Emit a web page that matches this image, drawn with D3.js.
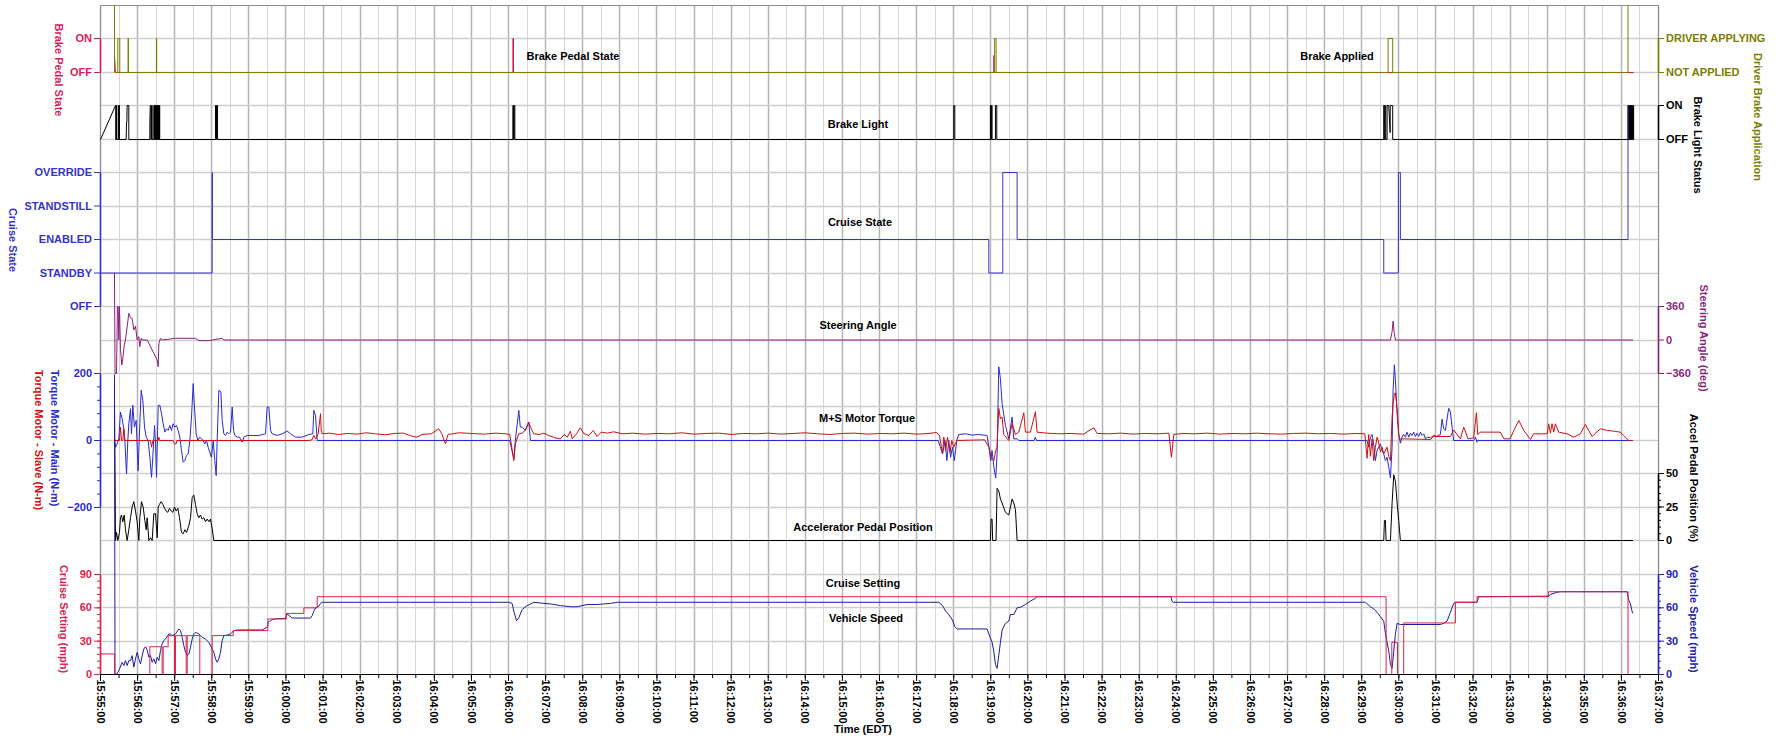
<!DOCTYPE html>
<html>
<head>
<meta charset="utf-8">
<script src="https://cdn.jsdelivr.net/npm/d3@7"></script>
<style>
  body { margin: 0; background: #fff; }
  svg text { font-family: "Liberation Sans", Arial, sans-serif; font-weight: bold; font-size: 11px; }
</style>
</head>
<body>
<script>
// all times are seconds after 15:55:00 (EDT)
var startClock = [15, 55, 0];
var endClock = [16, 37, 0];

var pedalLabels = ["OFF", "ON"];
var driverLabels = ["NOT APPLIED", "DRIVER APPLYING"];
var lightLabels = ["OFF", "ON"];
var cruiseStateLabels = ["OFF", "STANDBY", "ENABLED", "STANDSTILL", "OVERRIDE"];
var steerTicks = [-360, 0, 360];
var torqueTicks = [-200, 0, 200];
var accelTicks = [0, 25, 50];
var speedTicks = [0, 30, 60, 90];

var brakePedal = [[22.6,0.5],[24.3,0],[667,0],[667,1],[668,1],[668,0],[1444.8,0],[1444.8,0.5],[1445.6,0.5],[1445.6,0],[2479.8,0]];

var driverBrake = [[22.6,2],[22.8,0],[28.0,0],[28.0,1],[31.2,1],[31.2,0],[44.6,0],[44.6,1],[45.2,1],[45.2,0],
  [90.4,0],[90.4,1],[90.9,1],[90.9,0],[1446.2,0],[1446.2,1],[1448.6,1],[1448.6,0],
  [2082.6,0],[2082.6,1],[2090.1,1],[2090.1,0],[2470.7,0],[2470.7,2]];

var brakeLight = [[0,0],[24.3,1],[24.8,1],[24.8,0],[25.3,0],[25.3,1],[25.8,1],[25.8,0],
  [28.6,0],[28.6,1],[29.4,1],[29.4,0],[30.2,0],[30.2,1],[30.7,1],[30.7,0],
  [41.5,0],[42.1,0.5],[42.6,0.5],[43.1,1],[45.8,1],[45.8,0],
  [79.8,0],[79.8,0.5],[80.5,1],[81.5,1],[81.5,0],[82.5,0],[82.5,1],[83.6,1],[83.6,0],
  [86.3,0],[86.3,1],[87.0,1],[87.0,0],[87.6,0],[87.6,1],[88.3,1],[88.3,0],[88.9,0],[88.9,1],[89.6,1],[89.6,0],
  [90.2,0],[90.2,1],[90.9,1],[90.9,0],[91.5,0],[91.5,1],[92.2,1],[92.2,0],[92.8,0],[92.8,1],[93.5,1],[93.5,0],
  [94.1,0],[94.1,1],[94.8,1],[94.8,0],[95.4,0],[95.4,1],[95.8,1],[95.8,0],
  [186.0,0],[186.0,1],[187.6,1],[187.6,0],[188.2,0],[188.2,1],[189.3,1],[189.3,0],
  [667.0,0],[667.0,1],[668.0,1],[668.0,0],[669.0,0],[669.0,1],[670.2,1],[670.2,0],
  [1380.1,0],[1380.1,1],[1381.8,1],[1381.8,0],
  [1439.4,0],[1439.4,1],[1440.2,1],[1440.2,0],[1441.0,0],[1441.0,1],[1442.1,1],[1442.1,0],
  [1447.5,0],[1447.5,1],[1449.7,1],[1449.7,0],
  [2075.6,0],[2075.6,1],[2076.5,1],[2076.5,0],[2077.5,0],[2077.5,1],[2078.8,1],[2078.8,0],
  [2081.0,0],[2081.0,1],[2083.7,1],[2086.0,0.2],[2086.0,1],[2090.1,1],[2090.1,0],
  [2470.7,0],[2470.7,1],[2471.3,1],[2471.3,0],[2471.9,0],[2471.9,1],[2472.5,1],[2472.5,0],[2473.1,0],[2473.1,1],
  [2473.7,1],[2473.7,0],[2474.3,0],[2474.3,1],[2474.9,1],[2474.9,0],[2475.5,0],[2475.5,1],[2476.1,1],[2476.1,0],
  [2476.7,0],[2476.7,1],[2477.3,1],[2477.3,0],[2477.9,0],[2477.9,1],[2478.5,1],[2478.5,0],[2479.1,0],[2479.1,1],
  [2479.8,1],[2479.8,0]];

var cruiseState = [[0,1],[180.6,1],[180.6,4],[181.2,4],[181.2,2],[1436.8,2],[1436.8,1],[1459.4,1],[1459.4,4],
  [1482.6,4],[1482.6,2],[2075.6,2],[2075.6,1],[2099.3,1],[2099.3,4],[2102.5,4],[2102.5,2],[2470.7,2],[2470.7,6]];

var steering = [[22.6,724],[23.5,-360],[25.9,-360],[27.4,360],[28.6,360],[29.6,0],[30.7,360],[32.3,-100],
  [34.5,-269],[36.1,-200],[38.3,-60],[40.4,0],[44.2,200],[45.8,287],[48.5,240],[51.2,233],[53.9,108],
  [56.6,150],[59.3,0],[62.0,36],[63.6,-72],[65.8,18],[67.4,0],[75.5,0],[91.7,-215],[93.3,-287],[94.4,-40],
  [97.0,18],[99.7,0],[121.3,18],[153.6,18],[159.0,-7],[175.2,-7],[196.8,18],[199.5,0],
  [2086.4,0],[2089.1,90],[2090.7,204],[2092.3,90],[2094.5,0],[2478.8,0]];

var torqueMain = [[22.6,0],[24.3,-20],[26.9,-10],[29.6,5],[32.3,85],[35.0,65],[37.7,35],[39.4,0],[42.1,-100],
  [44.2,0],[45.8,50],[48.5,95],[50.1,20],[52.3,105],[54.9,40],[57.7,60],[60.9,-90],[63.6,50],[65.8,150],
  [68.5,120],[71.2,40],[73.9,10],[77.1,0],[79.8,-50],[82.5,-110],[84.6,-50],[87.4,45],[89.0,-10],[90.6,-110],
  [93.3,105],[96.0,105],[98.7,80],[101.4,50],[104.1,25],[106.7,35],[109.4,30],[112.1,45],[114.8,30],[117.5,50],
  [120.2,40],[122.9,45],[125.6,30],[128.3,10],[131.0,-30],[133.7,-65],[136.4,-60],[139.1,-45],[141.8,-40],
  [144.5,0],[147.2,70],[149.9,170],[152.0,100],[154.7,20],[157.4,0],[160.6,10],[163.3,5],[166.0,0],[168.7,-10],
  [171.4,0],[174.1,-20],[176.8,-35],[179.5,-50],[182.2,0],[184.9,-60],[187.1,-105],[188.7,0],[191.4,150],
  [194.7,145],[196.8,60],[199.5,20],[202.2,15],[204.9,25],[207.6,20],[210.3,25],[213.0,100],[215.2,30],
  [217.3,15],[221.1,10],[224.9,10],[229.2,-5],[231.9,10],[237.2,15],[245.3,15],[256.1,15],[266.9,20],
  [269.6,100],[272.3,100],[275.0,30],[277.7,20],[285.8,15],[293.9,20],[302.0,28],[307.4,20],[315.4,10],
  [326.2,10],[337.0,18],[343.4,20],[345.1,90],[347.8,75],[350.5,0],[353.2,0],
  [662,0],[668.5,-55],[671,0],[676.6,90],[679,40],[682,40],[687.3,30],[692.7,55],[695.4,0],
  [1355,0],[1362,-40],[1366,0],[1369,-60],[1372,0],[1375,-50],[1378,-20],[1381,-60],[1385,0],[1388,18],
  [1400,20],[1410,16],[1420,18],[1434,15],[1437,-20],[1440,-60],[1442,-30],[1445,-80],[1448,-112],
  [1450.2,-40],[1452.9,220],[1455.6,185],[1458.3,110],[1463.7,45],[1469.1,5],[1474.5,70],[1477.2,5],
  [1482.6,5],[1485.3,0],[1510,0],[1512,10],[1514,0],
  [2045,0],[2048.6,0],[2051.3,-20],[2054,10],[2056.7,18],[2059.4,-10],[2062.1,-60],[2064.8,-30],[2067.5,-20],
  [2070.2,-10],[2072.9,-30],[2075.6,-40],[2078.3,-60],[2081,-50],[2083.7,-80],[2086.4,-112],[2089.1,-20],
  [2090.7,150],[2092.8,226],[2094.5,180],[2097.2,80],[2099.8,20],[2102.5,-8],[2105.2,10],[2107.9,18],
  [2110.6,10],[2113.3,25],[2116,10],[2118.7,22],[2121.4,15],[2124.1,25],[2126.8,12],[2129.5,22],[2132.2,12],
  [2134.9,25],[2137.6,15],[2140.3,20],[2143,5],[2145.7,10],[2151.1,8],[2156.5,15],[2161.8,12],[2167.2,18],
  [2169.9,64],[2172.6,35],[2175.3,30],[2178,64],[2180.7,96],[2183.4,85],[2186.1,40],[2188.8,0],[2221,0],
  [2224,10],[2226.5,-5],[2227.6,0],[2478.8,0]];

var torqueSlave = [[22.6,0],[30.7,0],[32.3,40],[33.9,0],[36.1,0],[37.7,35],[39.4,0],[80.9,0],[82.5,-20],[84.6,0],
  [93.3,0],[94.4,10],[95.4,0],[117.5,0],[119.7,-10],[122.4,-10],[123.5,0],[337,0],[342,2],[345,15],[348,5],
  [352,20],[355.9,80],[357,30],[358.6,20],[370,22],[385,18],[400,21],[415,19],[430,23],[445,20],[460,17],
  [475,21],[490,22],[505,12],[512,10],[520,18],[535,20],[547,35],[552,20],[558,-10],[562,18],[580,23],
  [600,21],[620,19],[640,22],[655,20],[662,18],[668.5,-60],[671,-10],[676.6,20],[682,22],[687,30],
  [692.7,55],[695.4,40],[700.8,20],[710,18],[717,22],[725,15],[735,8],[744,5],[750,18],[755,10],[760,28],
  [763,5],[770,20],[776,38],[782,20],[790,15],[797,30],[803,12],[810,25],[820,22],[830,26],[845,20],
  [860,22],[880,19],[900,21],[920,20],[940,23],[960,19],[980,21],[1000,22],[1020,18],[1040,21],[1060,20],
  [1080,22],[1100,19],[1120,21],[1140,23],[1160,20],[1180,18],[1200,21],[1220,22],[1240,19],[1260,21],
  [1280,20],[1300,22],[1320,19],[1340,21],[1352,24],[1357,15],[1362,-40],[1364,10],[1367,-30],[1370,10],
  [1374,-35],[1377,0],[1380,-20],[1385,0],[1430,2],[1437,-20],[1440,-50],[1445,-60],[1448,-30],[1450.2,-20],
  [1452.9,96],[1455.6,65],[1458.3,70],[1461,18],[1469.1,0],[1474.5,50],[1479.9,18],[1485.3,25],[1493.4,83],
  [1496,25],[1504.1,25],[1512.2,86],[1514.9,25],[1530,22],[1550,20],[1570,21],[1590,19],[1606.6,38],
  [1612,21],[1630,20],[1650,22],[1670,19],[1690,21],[1710,20],[1728,22],[1732.2,-50],[1736,18],[1750,21],
  [1770,20],[1790,22],[1810,19],[1830,21],[1850,20],[1870,22],[1890,20],[1910,19],[1930,21],[1950,22],
  [1970,20],[1990,21],[2010,19],[2030,21],[2045,20],[2048.6,-53],[2051.3,18],[2054,-47],[2056.7,5],
  [2059.4,-60],[2062.1,-20],[2064.8,10],[2067.5,-8],[2070.2,-34],[2072.9,-20],[2075.6,-40],[2081,-20],
  [2083.7,-47],[2086.4,-60],[2089.1,70],[2090.7,110],[2092.8,140],[2094.5,142],[2097.2,95],[2099.8,18],
  [2102.5,0],[2105.2,5],[2151.1,3],[2156.5,12],[2183.4,12],[2188.8,31],[2199.6,5],[2205,40],[2212,5],
  [2221,8],[2225.5,83],[2227.6,18],[2232,25],[2248,25],[2264,25],[2270,5],[2280,5],[2286,30],[2294,60],
  [2302,30],[2313,3],[2318,20],[2340,20],[2342.4,50],[2345.1,22],[2347.8,50],[2350.5,25],[2353.2,50],
  [2358.6,25],[2372,20],[2383,10],[2393.6,20],[2401.7,48],[2412.5,12],[2426,35],[2437,30],[2447,28],
  [2458,25],[2463.7,15],[2471.8,0],[2478.8,0]];

var accelPedal = [[22.6,101],[24.3,0],[25.9,6],[28.0,0],[30.7,6],[32.3,17],[33.9,19],[36.1,14],[38.3,19],
  [40.4,8],[43.1,0],[45.8,8],[48.5,17],[51.2,25],[53.9,29],[56.6,22],[59.3,14],[62.0,0],[63.6,17],[66.3,29],
  [69.0,25],[71.7,15],[73.9,8],[75.5,17],[78.2,0],[80.9,2],[83.6,0],[86.3,20],[89.0,20],[91.7,2],[93.3,25],
  [95.4,27],[98.1,29],[100.8,27],[103.5,24],[106.2,22],[108.9,21],[111.6,24],[114.3,22],[117.0,21],
  [119.7,25],[122.4,22],[125.1,24],[127.8,17],[131.0,6],[133.7,5],[136.4,8],[139.1,6],[142.9,11],[145.6,17],
  [148.3,32],[150.9,34],[153.6,27],[156.3,20],[159.0,17],[161.7,19],[164.4,16],[167.1,17],[169.8,14],
  [172.5,16],[175.2,14],[177.9,16],[180.6,9],[183.3,0],
  [1439.4,0],[1440.5,16],[1442.1,16],[1443,0],[1448.5,0],[1450.2,39],[1452.9,37],[1455.6,31],[1458.3,28],
  [1463.7,21],[1469.1,19],[1474.5,31],[1477.2,28],[1479.9,23],[1482.6,0],
  [2075.6,0],[2076.7,15],[2078.3,15],[2079.4,0],[2086.4,0],[2089.1,28],[2091.8,49],[2094.5,44],[2097.2,28],
  [2099.8,15],[2102.5,0],[2478.8,0]];

var cruiseSetting = [[0,18.5],[22.6,18.5],[22.6,0],[79.8,0],[79.8,25],[99.7,25],[99.7,0],[101.4,0],[101.4,25],
  [109.4,25],[109.4,35],[119.7,35],[119.7,0],[121.3,0],[121.3,35],[138.6,35],[138.6,0],[140.2,0],[140.2,35],
  [160.6,35],[160.6,0],[180.6,0],[180.6,35],[214.6,35],[214.6,39.5],[270.7,39.5],[270.7,50],[300.3,50],
  [300.3,55],[328.9,55],[328.9,60],[350.5,60],[350.5,70],[2079.4,70],[2079.4,0],[2088.6,0],[2088.6,29],
  [2097.8,29],[2097.8,0],[2107.9,0],[2107.9,46.4],[2191.5,46.4],[2191.5,65],[2226.5,65],[2226.5,70],
  [2342,70],[2342,74.5],[2470.7,74.5],[2470.7,0],[2472,0]];

var vehicleSpeed = [[22.6,270],[23.5,0],[26.9,0.6],[30.7,5],[35.0,11],[37.7,8],[40.4,12.5],[43.1,8],[45.8,12.5],
  [48.5,12.5],[51.2,17],[53.9,6.6],[56.6,14],[59.3,20],[62.0,14],[64.7,9.6],[67.4,17],[70.1,23],[72.8,25],
  [75.5,22],[78.2,15.5],[80.9,17],[83.6,11],[86.3,14],[89.0,9.6],[91.7,15.5],[94.4,12.5],[97.0,21.5],
  [99.7,27.5],[102.4,30.5],[105.1,32],[110.5,36.5],[113.2,36.5],[115.9,35],[121.3,36.5],[126.7,41],
  [129.4,39.5],[132.1,33.5],[134.8,26],[137.5,20],[140.2,17],[142.9,18.5],[145.6,24.5],[148.3,32],
  [150.9,36.5],[153.6,38],[159.0,36.5],[164.4,33.5],[169.8,32],[175.2,29],[177.9,26],[180.6,23],[183.3,20],
  [186.0,14],[188.7,11],[191.4,14],[194.1,20],[196.8,30.5],[199.5,35],[204.9,35.5],[210.3,36.5],[215.7,39.5],
  [221.1,40.1],[261.5,40.1],[269.6,42.5],[271.2,47],[275.0,48.5],[280.4,50],[299.2,50.5],[302.0,54.5],
  [310.0,50.8],[339.7,50.8],[342.4,53],[345.1,57],[347.8,60],[353.2,61.5],[355.9,64],[358.6,65],[660,65],
  [665.8,64],[668.5,57],[672.8,48.4],[676.6,51],[682,58.5],[690,62],[700.8,65],[717,64],[728,63.5],[744,62],
  [760,61],[771,61],[787,63],[803,63],[814,63.5],[825,64],[836,65],[1356,65],[1362,62],[1367,57],[1372,54],
  [1378,49],[1382,43],[1385.5,41],[1434,41],[1436.8,36.6],[1442.1,29],[1444.8,21],[1447.5,9],[1450.2,5.5],
  [1452.9,17],[1455.6,29],[1458.3,40],[1463.7,46],[1469.1,48],[1471.8,54],[1477.2,54],[1482.6,60],
  [1488,60.5],[1496,63],[1504.1,66],[1512.2,68.6],[1513.8,70],[1731.5,70],[1733,66],[1735,65],[2046,65],
  [2054,61],[2059.4,59],[2064.8,56],[2070.2,52],[2075.6,48],[2078.3,37],[2081,29],[2083.7,21],[2086.4,9],
  [2089.1,5.5],[2091.8,21],[2094.5,36.6],[2097.2,46],[2102.5,45],[2167,45],[2172.6,46],[2178,48],
  [2183.4,56],[2188.8,64],[2191.5,65],[2226.5,65],[2229.2,70],[2342.4,70.5],[2345.1,72],[2355.9,74],
  [2361.3,74.5],[2469,74.5],[2471.8,67],[2474.4,64],[2477.2,57],[2478.8,55]];

var W = 1786, H = 743;
var L = 100.5, R = 1658.5, TOP = 5, ROW = 33.45;
// snap each grid row to a pixel centre so the flat lines stay crisp
function row(k) { return Math.round(TOP + k * ROW) + 0.5; }

var T0 = new Date(2000, 0, 1, startClock[0], startClock[1], startClock[2]);
var T1 = new Date(2000, 0, 1, endClock[0], endClock[1], endClock[2]);
function at(s) { return new Date(T0.getTime() + s * 1000); }

var x = d3.scaleTime().domain([T0, T1]).range([L, R]);
var yPedal = d3.scaleLinear().domain([0, 1]).range([row(2), row(1)]);
var yLight = d3.scaleLinear().domain([0, 1]).range([row(4), row(3)]);
var yState = d3.scaleLinear().domain([0, 4]).range([row(9), row(5)]);
var ySteer = d3.scaleLinear().domain([-360, 360]).range([row(11), row(9)]);
var yTorque = d3.scaleLinear().domain([-200, 200]).range([row(15), row(11)]);
var yAccel = d3.scaleLinear().domain([0, 50]).range([row(16), row(14)]);
var ySpeed = d3.scaleLinear().domain([0, 90]).range([row(20), row(17)]);

var C = {
  pedal: "#d81b60", olive: "#7d7d00", state: "#3434c8", steer: "#8c1f7c",
  main: "#2a2ad2", slave: "#d01010", speed: "#1d1d9c", speedAx: "#2222b4", setting: "#e0204a"
};

var svg = d3.select("body").append("svg").attr("width", W).attr("height", H);

svg.append("clipPath").attr("id", "clip").append("rect")
  .attr("x", L - 0.5).attr("y", TOP).attr("width", R - L + 1).attr("height", row(20) - TOP + 1);

// grid
var grid = svg.append("g");
x.ticks(d3.timeSecond.every(30)).forEach(function(t) {
  var major = t.getSeconds() === 0;
  var gx = Math.round(x(t) - 0.5) + 0.5;
  grid.append("line").attr("x1", gx).attr("x2", gx).attr("y1", row(0)).attr("y2", row(20))
    .attr("stroke", major ? "#b4b4b4" : "#d6d6d6").attr("stroke-width", major ? 1.5 : 1);
});
d3.range(1, 20).forEach(function(k) {
  grid.append("line").attr("x1", L).attr("x2", R).attr("y1", row(k)).attr("y2", row(k))
    .attr("stroke", "#cdcdcd").attr("stroke-width", 1.5);
});
grid.append("line").attr("x1", L).attr("x2", R).attr("y1", row(0)).attr("y2", row(0)).attr("stroke", "#8c8c8c");
grid.append("line").attr("x1", L).attr("x2", L).attr("y1", row(0)).attr("y2", row(20)).attr("stroke", "#8c8c8c");
grid.append("line").attr("x1", R).attr("x2", R).attr("y1", row(0)).attr("y2", row(20)).attr("stroke", "#8c8c8c");

// series
function plot(data, ys, color) {
  svg.append("path").datum(data).attr("clip-path", "url(#clip)")
    .attr("fill", "none").attr("stroke", color).attr("stroke-width", 1)
    .attr("d", d3.line().x(function(d) { return x(at(d[0])); }).y(function(d) { return ys(d[1]); }));
}
plot(brakePedal, yPedal, C.pedal);
plot(driverBrake, yPedal, C.olive);
plot(brakeLight, yLight, "#000");
plot(cruiseState, yState, C.state);
plot(steering, ySteer, C.steer);
plot(torqueMain, yTorque, C.main);
plot(torqueSlave, yTorque, C.slave);
plot(accelPedal, yAccel, "#000");
plot(vehicleSpeed, ySpeed, C.speed);
plot(cruiseSetting, ySpeed, C.setting);

// y axes
function yAxis(side, ys, vals, fmt, color, minorStep) {
  var mk = side === "left" ? d3.axisLeft : d3.axisRight;
  var g = svg.append("g").attr("transform", "translate(" + (side === "left" ? L - 0.5 : R - 0.5) + ",-0.5)");
  if (minorStep) {
    var dom = ys.domain();
    g.append("g").call(mk(ys).tickValues(d3.range(dom[0], dom[1] + 0.001, minorStep)).tickFormat("").tickSize(3).tickSizeOuter(0))
      .call(function(s) { s.select(".domain").remove(); s.selectAll("line").attr("stroke", color); });
  }
  var a = g.append("g").call(mk(ys).tickValues(vals).tickFormat(fmt).tickSize(6).tickSizeOuter(0).tickPadding(2));
  a.attr("font-family", null).attr("font-size", null);
  a.select(".domain").attr("stroke", color).attr("stroke-width", 1.5);
  a.selectAll(".tick line").attr("stroke", color);
  a.selectAll(".tick text").attr("fill", color);
}
yAxis("left", yPedal, [0, 1], function(d) { return pedalLabels[d]; }, C.pedal);
yAxis("left", yState, [0, 1, 2, 3, 4], function(d) { return cruiseStateLabels[d]; }, C.state);
yAxis("left", yTorque, torqueTicks, d3.format("d"), C.main, 40);
yAxis("left", ySpeed, speedTicks, d3.format("d"), C.setting, 6);
yAxis("right", yPedal, [0, 1], function(d) { return driverLabels[d]; }, C.olive);
yAxis("right", yLight, [0, 1], function(d) { return lightLabels[d]; }, "#000");
yAxis("right", ySteer, steerTicks, d3.format("d"), C.steer);
yAxis("right", yAccel, accelTicks, d3.format("d"), "#000", 5);
yAxis("right", ySpeed, speedTicks, d3.format("d"), C.speedAx, 6);

// x axis
var xg = svg.append("g").attr("transform", "translate(-0.5," + (row(20) - 0.5) + ")");
xg.call(d3.axisBottom(x).ticks(d3.timeSecond.every(30)).tickFormat("").tickSize(4).tickSizeOuter(0));
xg.append("g").call(d3.axisBottom(x).ticks(d3.timeMinute.every(1)).tickFormat("").tickSize(7).tickSizeOuter(0));
xg.selectAll("path, line").attr("stroke", "#000");
var fmt = d3.timeFormat("%H:%M:%S");
x.ticks(d3.timeMinute.every(1)).forEach(function(t) {
  svg.append("text").attr("transform", "translate(" + x(t) + "," + (row(20) + 5) + ") rotate(90)")
    .attr("dy", "0.35em").attr("fill", "#000").text(fmt(t));
});

// rotated axis titles
function vlabel(txt, cx, cy, color) {
  svg.append("text").attr("transform", "translate(" + cx + "," + cy + ") rotate(90)")
    .attr("text-anchor", "middle").attr("dy", "0.35em").attr("fill", color).text(txt);
}
vlabel("Brake Pedal State", 59, 70, C.pedal);
vlabel("Cruise State", 13, 240, C.state);
vlabel("Torque Motor - Main (N-m)", 55, 438, C.main);
vlabel("Torque Motor - Slave (N-m)", 39, 440, C.slave);
vlabel("Cruise Setting (mph)", 64, 619, C.setting);
vlabel("Driver Brake Application", 1758, 117, C.olive);
vlabel("Brake Light Status", 1698, 145, "#000");
vlabel("Steering Angle (deg)", 1704, 338, C.steer);
vlabel("Accel Pedal Position (%)", 1694, 478, "#000");
vlabel("Vehicle Speed (mph)", 1694, 619, C.speedAx);

// panel titles
function title(txt, cx, y) {
  svg.append("text").attr("x", cx).attr("y", y).attr("text-anchor", "middle").attr("fill", "#000").text(txt);
}
title("Brake Pedal State", 573, 60);
title("Brake Applied", 1337, 60);
title("Brake Light", 858, 128);
title("Cruise State", 860, 226);
title("Steering Angle", 858, 329);
title("M+S Motor Torque", 867, 422);
title("Accelerator Pedal Position", 863, 531);
title("Cruise Setting", 863, 587);
title("Vehicle Speed", 866, 622);
title("Time (EDT)", 863, 733);
</script>
</body>
</html>
